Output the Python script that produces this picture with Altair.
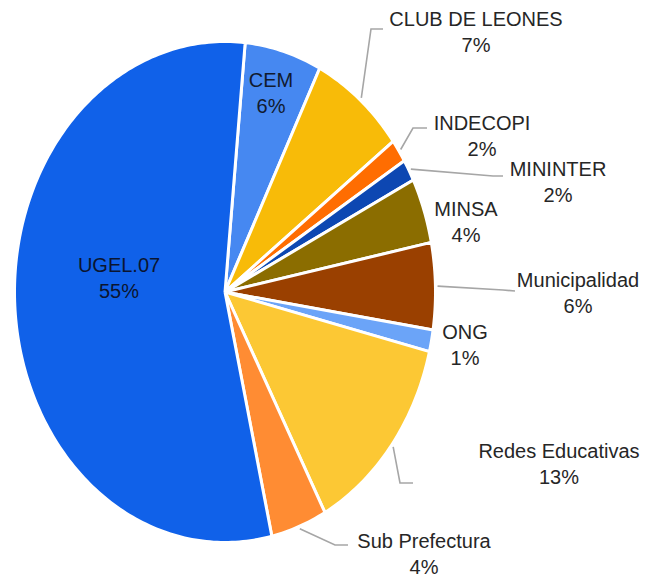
import math
import altair as alt
import pandas as pd

# ---------------- data ----------------
categories = ["CEM", "CLUB DE LEONES", "INDECOPI", "MININTER", "MINSA",
              "Municipalidad", "ONG", "Redes Educativas", "Sub Prefectura", "UGEL.07"]
values = [5.9, 7.3, 1.5, 1.4, 4.2, 5.6, 1.4, 13.3, 4.3, 55.1]
pct_labels = ["6%", "7%", "2%", "2%", "4%", "6%", "1%", "13%", "4%", "55%"]

# ---------------- styles / layout ----------------
colors = ["#4688F1", "#F8BB08", "#FF6D01", "#0D47B2", "#8B6D00",
          "#9A4000", "#6BA4F8", "#FCC834", "#FF8C33", "#1061E9"]
START_DEG = 5.5          # first slice angle
W, H = 632, 570          # drawing area (page minus 8px margins)
CX, CY = 225, 292        # pie centre on the page
RX, RY = 210.5, 250.5    # stretched (elliptical) pie radii in px

# label block centres on the page (px)
label_pos = {
    "CEM": (271, 94), "CLUB DE LEONES": (476, 33), "INDECOPI": (482, 137),
    "MININTER": (558, 183), "MINSA": (466, 223), "Municipalidad": (578, 294),
    "ONG": (465, 346), "Redes Educativas": (559, 465), "Sub Prefectura": (424, 555),
    "UGEL.07": (119, 279),
}
label_color = {"CEM": "#111a2e", "UGEL.07": "#0b1530"}
# leader line elbow and end points on the page (px)
leaders = {
    "CLUB DE LEONES": [(371, 29), (383, 29)],
    "INDECOPI": [(413, 128), (427, 128)],
    "MININTER": [(493, 176), (503, 176)],
    "Municipalidad": [(503, 290), (515, 291)],
    "Redes Educativas": [(400, 483), (413, 483)],
    "Sub Prefectura": [(335, 545), (348, 545)],
}

def ux(px):
    return (px - CX) / RX

def uy(py):
    return (CY - py) / RY

# ---------------- slice polygons from the values ----------------
total = sum(values)
rows, lead_rows = [], []
ang = START_DEG
mids = {}
for name, v in zip(categories, values):
    span = v / total * 360.0
    a0, a1 = ang, ang + span
    mids[name] = (a0 + a1) / 2
    n = max(2, int(math.ceil(span / 1.0)))
    k = 0
    rows.append({"name": name, "i": k, "x": 0.0, "y": 0.0}); k += 1
    for j in range(n + 1):
        t = math.radians(a0 + span * j / n)
        rows.append({"name": name, "i": k, "x": math.sin(t), "y": math.cos(t)}); k += 1
    rows.append({"name": name, "i": k, "x": 0.0, "y": 0.0})
    ang = a1
poly = pd.DataFrame(rows)

for name, pts in leaders.items():
    t = math.radians(mids[name])
    lead_rows.append({"name": name, "i": 0, "x": 1.01 * math.sin(t), "y": 1.01 * math.cos(t)})
    for j, (px, py) in enumerate(pts):
        lead_rows.append({"name": name, "i": j + 1, "x": ux(px), "y": uy(py)})
lead = pd.DataFrame(lead_rows)

lab = pd.DataFrame({
    "name": categories,
    "pct": pct_labels,
    "x": [ux(label_pos[c][0]) for c in categories],
    "y": [uy(label_pos[c][1]) for c in categories],
    "tc": [label_color.get(c, "#262626") for c in categories],
})

xs = alt.Scale(domain=[ux(8), ux(8 + W)], nice=False, zero=False)
ys = alt.Scale(domain=[uy(8 + H), uy(8)], nice=False, zero=False)
X = alt.X("x:Q", scale=xs, axis=None)
Y = alt.Y("y:Q", scale=ys, axis=None)

pie = alt.Chart(poly).mark_line(
    filled=True, stroke="white", strokeWidth=3, strokeJoin="round"
).encode(
    x=X, y=Y, detail="name:N", order="i:Q",
    fill=alt.Fill("name:N", scale=alt.Scale(domain=categories, range=colors), legend=None),
)

leader = alt.Chart(lead).mark_line(stroke="#A6A6A6", strokeWidth=1.6).encode(
    x=X, y=Y, detail="name:N", order="i:Q"
)

FONT = '"Liberation Sans", Arial, sans-serif'
FS = 20
name_txt = alt.Chart(lab).mark_text(
    font=FONT, fontSize=FS, align="center", baseline="middle", dy=-13
).encode(x=X, y=Y, text="name:N", color=alt.Color("tc:N", scale=None))
pct_txt = alt.Chart(lab).mark_text(
    font=FONT, fontSize=FS, align="center", baseline="middle", dy=13
).encode(x=X, y=Y, text="pct:N", color=alt.Color("tc:N", scale=None))

chart = alt.layer(pie, leader, name_txt, pct_txt).properties(
    width=W, height=H, padding=0, autosize=alt.AutoSizeParams(type="none")
).configure_view(stroke=None)

chart.save("out.html", embed_options={"renderer": "svg", "actions": False})
